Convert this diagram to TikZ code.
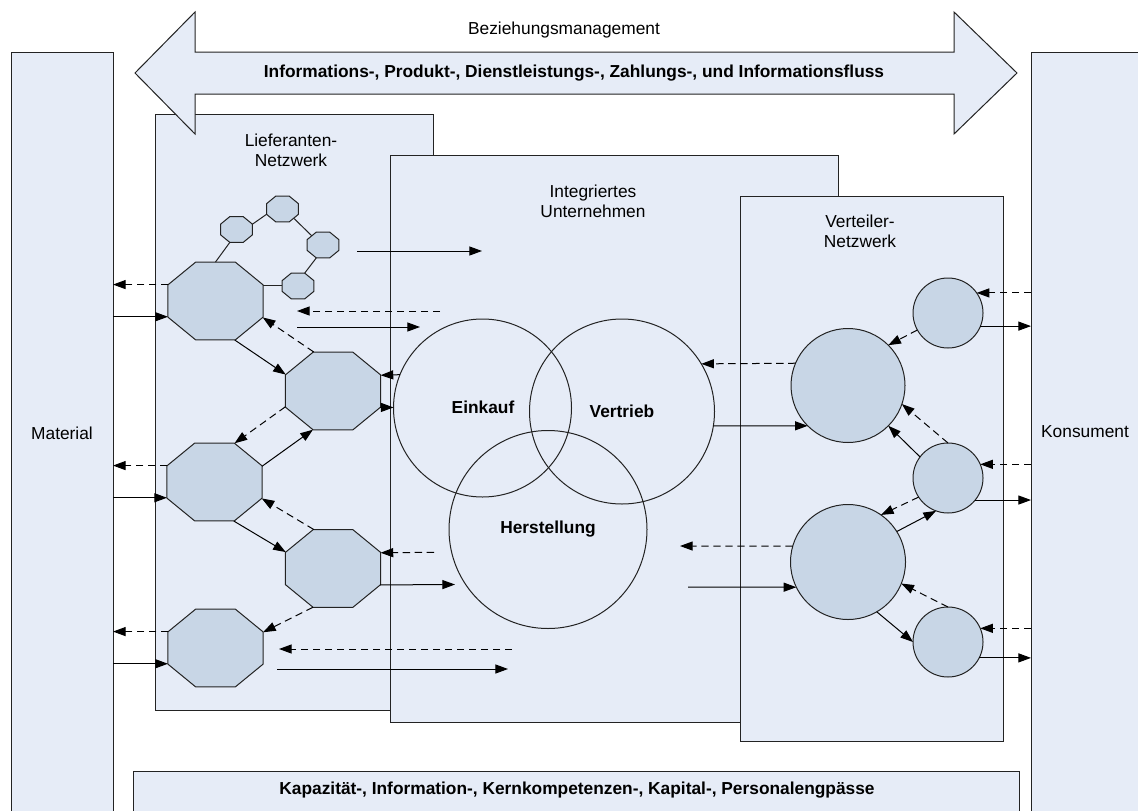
\documentclass[tikz,border=0pt]{standalone}
\usepackage{fontspec}
\setmainfont{Liberation Sans}
\usetikzlibrary{shapes.geometric,arrows.meta}

\definecolor{panel}{RGB}{230,236,247}
\definecolor{unitfill}{RGB}{200,214,230}
\definecolor{edge}{RGB}{35,35,35}

\begin{document}
\begin{tikzpicture}[x=0.75pt,y=-0.75pt,
  every node/.style={font=\fontsize{13pt}{15pt}\selectfont},
  panelbox/.style={draw=edge, fill=panel, line width=0.75pt, rectangle,
    anchor=north west, inner sep=0pt, outer sep=0pt},
  octa/.style={draw=edge, fill=unitfill, line width=0.75pt, regular polygon,
    regular polygon sides=8, inner sep=0pt, outer sep=0pt, xscale=1.22, transform shape},
  bigocta/.style={octa, minimum size=63.3pt},
  smallocta/.style={octa, minimum size=21.1pt},
  venn/.style={draw=edge, line width=0.75pt, circle, inner sep=0pt, outer sep=0pt},
  site/.style={draw=edge, fill=unitfill, line width=0.75pt, circle, inner sep=0pt, outer sep=0pt},
  lbl/.style={align=center, inner sep=0pt},
  boldlbl/.style={font=\fontsize{13pt}{15pt}\selectfont\bfseries, inner sep=0pt},
  flow/.style={draw=black, line width=0.75pt, -{Triangle[length=9.5pt,width=6.8pt]}},
  back/.style={flow, dash pattern=on 5.5pt off 3.5pt},
  link/.style={draw=edge, line width=0.75pt}
]
\useasboundingbox (0,0) rectangle (1138,810);
\fill[white] (0,0) rectangle (1138,810);

% outer columns
\node[panelbox, minimum width=76.5pt, minimum height=572pt] (mat) at (11,52) {};
\node[panelbox, minimum width=86pt, minimum height=572pt] (kons) at (1031,52) {};
\node[lbl] (mattxt) at (62,433) {Material};
\node[lbl] (konstxt) at (1085,432) {Konsument};

% network panels
\node[panelbox, minimum width=208.5pt, minimum height=447pt] (lief) at (155,114) {};
\node[panelbox, minimum width=336pt, minimum height=425.25pt] (iu) at (390,155) {};
\node[panelbox, minimum width=197.25pt, minimum height=408.75pt] (vert) at (740,196) {};
\node[panelbox, minimum width=665pt, minimum height=33pt] (engp) at (133,771) {};

% relationship management double arrow
\draw[draw=edge, fill=panel, line width=0.75pt]
  (135,73) -- (195,12) -- (195,52) -- (954,52) -- (954,12) -- (1017,73)
  -- (954,134) -- (954,94) -- (195,94) -- (195,134) -- cycle;
\node[lbl] (bez) at (564,30) {Beziehungsmanagement};
\node[boldlbl] (fluss) at (574,73) {Informations-, Produkt-, Dienstleistungs-, Zahlungs-, und Informationsfluss};
\node[boldlbl] (engtxt) at (577,790) {Kapazität-, Information-, Kernkompetenzen-, Kapital-, Personalengpässe};

% panel titles
\node[lbl] (lieftxt) at (291,150) {Lieferanten-\\Netzwerk};
\node[lbl] (iutxt) at (593,201) {Integriertes\\Unternehmen};
\node[lbl] (verttxt) at (860,231) {Verteiler-\\Netzwerk};

% supplier network
\node[bigocta] (o1) at (215.5,301) {};
\node[bigocta] (o2) at (333,391) {};
\node[bigocta] (o3) at (214.5,482) {};
\node[bigocta] (o4) at (333,568.5) {};
\node[bigocta] (o5) at (215.5,648) {};
\node[smallocta] (s1) at (236.5,229.5) {};
\node[smallocta] (s2) at (282.5,209) {};
\node[smallocta] (s3) at (323,245) {};
\node[smallocta] (s4) at (298,286) {};

\draw[link] (o1.north) -- (s1.247.5);
\draw[link] (s1.22.5) -- (s2.202.5);
\draw[link] (s2.-45) -- (s3.135);
\draw[link] (s3.247.5) -- (s4.67.5);
\draw[link] (o1.22.5) -- (o1.22.5 -| s4.west);

% enterprise functions
\node[venn, minimum size=133.5pt] (ein) at (482.5,408) {};
\node[venn, minimum size=138.75pt] (ver) at (622,411.5) {};
\node[venn, minimum size=148.5pt] (her) at (548,529.5) {};
\node[boldlbl] (eintxt) at (483,407) {Einkauf};
\node[boldlbl] (vertxt) at (622,411) {Vertrieb};
\node[boldlbl] (hertxt) at (548,529) {Herstellung};

% distribution network
\node[site, minimum size=85.5pt] (b1) at (848,385.5) {};
\node[site, minimum size=86.25pt] (b2) at (848,562) {};
\node[site, minimum size=52.5pt] (c1) at (948,313) {};
\node[site, minimum size=52.5pt] (c2) at (948,478) {};
\node[site, minimum size=52.5pt] (c3) at (948,642) {};

% free ends of flows
\coordinate (fa1) at (357,251);  \coordinate (fa2) at (482,251);
\coordinate (fb1) at (440,311);  \coordinate (fb2) at (297,311);
\coordinate (fc1) at (297,327);  \coordinate (fc2) at (420,327);
\coordinate (fd) at (434,552.3);
\coordinate (fe) at (455,584.5);
\coordinate (ff1) at (512,649);  \coordinate (ff2) at (279,649);
\coordinate (fg1) at (277,669);  \coordinate (fg2) at (508,669);
\coordinate (fh) at (680,546);
\coordinate (fi) at (688,587);

% supplier side flows
\draw[back] (o1.157.5) -- (o1.157.5 -| mat.east);
\draw[flow] (o1.202.5 -| mat.east) -- (o1.202.5);
\draw[back] (o3.157.5) -- (o3.157.5 -| mat.east);
\draw[flow] (o3.202.5 -| mat.east) -- (o3.202.5);
\draw[back] (o5.157.5) -- (o5.157.5 -| mat.east);
\draw[flow] (o5.202.5 -| mat.east) -- (o5.202.5);

\draw[flow] (o1.292.5) -- (o2.157.5);
\draw[back] (o2.112.5) -- (o1.337.5);
\draw[back] (o2.202.5) -- (o3.67.5);
\draw[flow] (o3.22.5) -- (o2.247.5);
\draw[flow] (o3.292.5) -- (o4.157.5);
\draw[back] (o4.112.5) -- (o3.337.5);
\draw[back] (o4.247.5) -- (o5.22.5);

\draw[flow] (fa1) -- (fa2);
\draw[back] (fb1) -- (fb2);
\draw[flow] (fc1) -- (fc2);
\draw[back] (ein.158) -- (o2.22.5);
\draw[flow] (o2.337.5) -- (o2.337.5 -| ein.west);
\draw[back] (fd) -- (o4.22.5);
\draw[flow] (o4.337.5) -- (fe);
\draw[back] (ff1) -- (ff2);
\draw[flow] (fg1) -- (fg2);

% distribution side flows
\draw[back] (kons.west |- c1.35) -- (c1.35);
\draw[flow] (c1.-22) -- (c1.-22 -| kons.west);
\draw[back] (c1.209) -- (b1.45);
\draw[back] (b1.157) -- (ver.31.6);
\draw[flow] (ver.-9) -- (b1.225);
\draw[back] (c2.north) -- (b1.-19.5);
\draw[flow] (c2.143) -- (b1.-45);
\draw[back] (kons.west |- c2.23.6) -- (c2.23.6);
\draw[flow] (c2.-39) -- (c2.-39 -| kons.west);
\draw[back] (c2.213) -- (b2.55);
\draw[flow] (b2.32) -- (c2.250);
\draw[back] (b2.164) -- (fh);
\draw[flow] (fi) -- (b2.206);
\draw[back] (c3.north) -- (b2.-22);
\draw[flow] (b2.-60) -- (c3.west);
\draw[back] (kons.west |- c3.23.6) -- (c3.23.6);
\draw[flow] (c3.-27) -- (c3.-27 -| kons.west);
\end{tikzpicture}
\end{document}
